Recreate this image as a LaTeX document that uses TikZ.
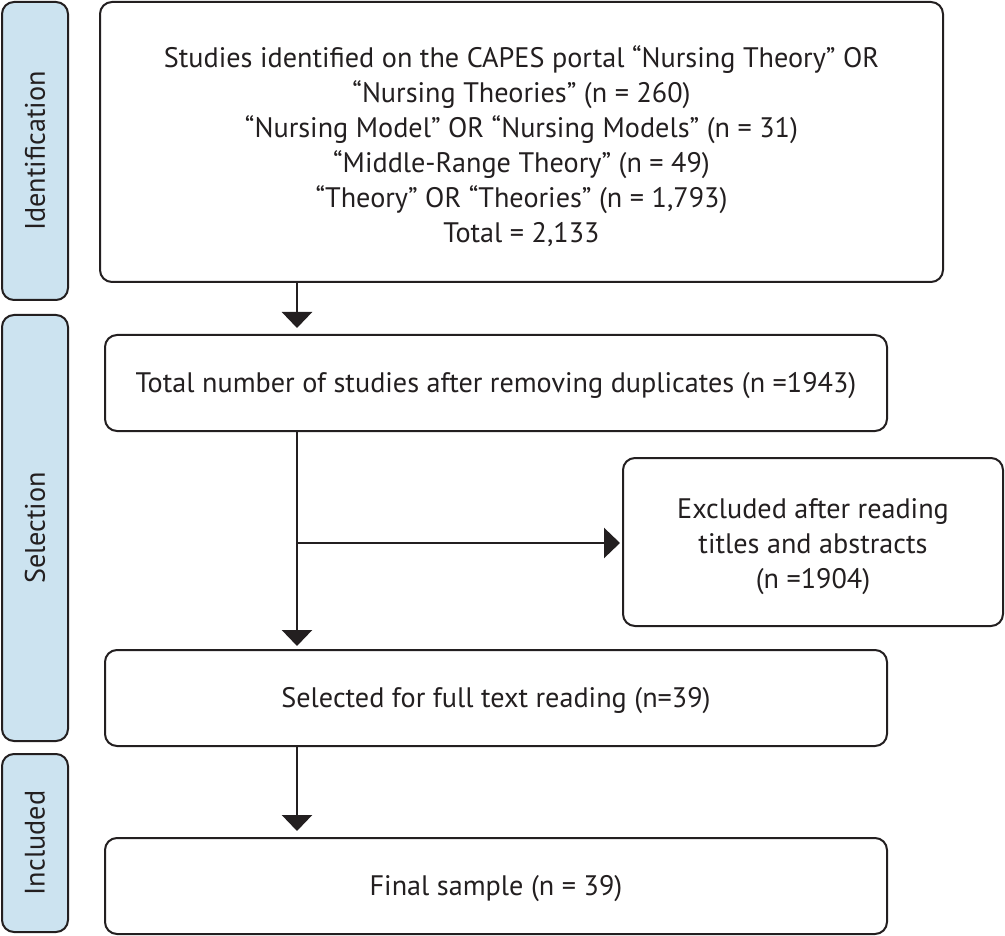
\documentclass[tikz,border=0pt]{standalone}
\usepackage{fontspec}
\setmainfont{PT Sans}
\usetikzlibrary{arrows.meta,calc}
\definecolor{sidefill}{HTML}{CCE3F0}
\definecolor{ink}{HTML}{231F20}
\tikzset{
  box/.style={draw=ink, line width=2pt, rounded corners=12pt, fill=white, inner sep=0pt},
  lbl/.style={align=center, text=ink, inner sep=0pt},
  side/.style={draw=ink, line width=2pt, rounded corners=12pt, fill=sidefill, inner sep=0pt, text=ink},
  arr/.style={draw=ink, line width=2.8pt, -{Triangle[width=30pt,length=16pt]}},
}
\begin{document}
\begin{tikzpicture}[x=1pt,y=-1pt,font=\fontsize{28.2}{35}\selectfont]
\useasboundingbox (0,0) rectangle (1005,936);
% side phase boxes
\node[side, minimum width=66pt, minimum height=298pt] (sid) at (35,151) {};
\node[rotate=90, text=ink] (sidl) at (sid.center) {Identification};
\node[side, minimum width=66pt, minimum height=426pt] (ssel) at (35,528) {};
\node[rotate=90, text=ink] (ssell) at (ssel.center) {Selection};
\node[side, minimum width=66pt, minimum height=178pt] (sinc) at (35,843) {};
\node[rotate=90, text=ink] (sincl) at (sinc.center) {Included};
% main boxes
\node[box, minimum width=843pt, minimum height=280pt] (b1) at (521.5,142) {};
\node[lbl] (b1t) at (521.5,146)
  {Studies identified on the CAPES portal “Nursing Theory” OR\\
   “Nursing Theories” (n = 260)\\
   “Nursing Model” OR “Nursing Models” (n = 31)\\
   “Middle-Range Theory” (n = 49)\\
   “Theory” OR “Theories” (n = 1,793)\\
   Total = 2,133};
\node[box, minimum width=782pt, minimum height=96pt] (b2) at (496,383) {};
\node[lbl] (b2t) at (496,386) {Total number of studies after removing duplicates (n =1943)};
\node[box, minimum width=380pt, minimum height=168pt] (ex) at (813,542) {};
\node[lbl] (ext) at (813,547) {Excluded after reading\\ titles and abstracts\\ (n =1904)};
\node[box, minimum width=782pt, minimum height=96pt] (b3) at (496,698) {};
\node[lbl] (b3t) at (496,701) {Selected for full text reading (n=39)};
\node[box, minimum width=782pt, minimum height=96pt] (b4) at (496,886) {};
\node[lbl] (b4t) at (496,889) {Final sample (n = 39)};
% connectors
\coordinate (col) at (297,0);
\coordinate (br) at (297,543);
\draw[arr, shorten >=6pt] (col |- b1.south) -- (col |- b2.north);
\draw[arr, shorten >=3pt] (col |- b2.south) -- (col |- b3.north);
\draw[arr, shorten >=2pt] (br) -- (br -| ex.west);
\draw[arr, shorten >=6pt] (col |- b3.south) -- (col |- b4.north);
\end{tikzpicture}
\end{document}
